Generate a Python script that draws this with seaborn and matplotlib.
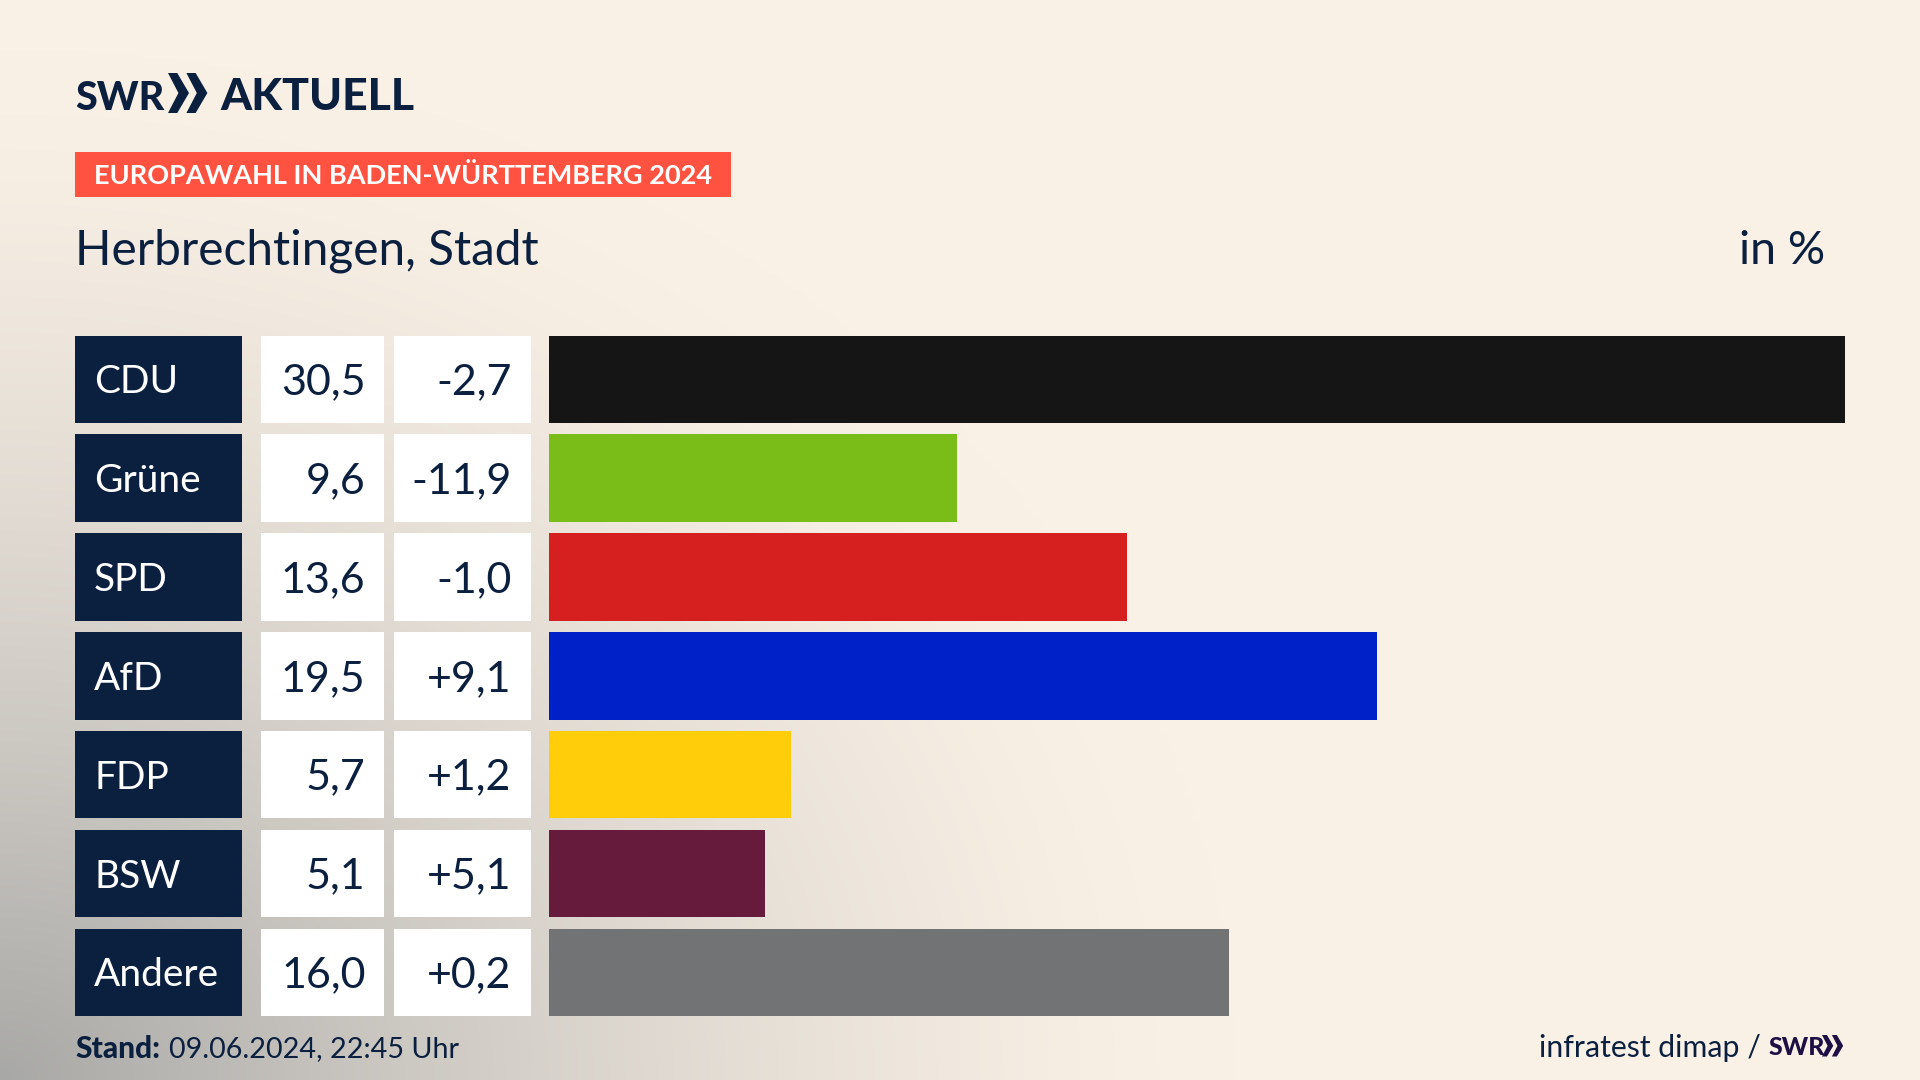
import numpy as np
import pandas as pd
import matplotlib
matplotlib.use("Agg")
import matplotlib.pyplot as plt
from matplotlib.patches import Rectangle, Polygon
import seaborn as sns

# ── Data ─────────────────────────────────────────────────────────────────
PARTIES = ["CDU", "Grüne", "SPD", "AfD", "FDP", "BSW", "Andere"]
SHARES = [30.5, 9.6, 13.6, 19.5, 5.7, 5.1, 16.0]
CHANGES = [-2.7, -11.9, -1.0, 9.1, 1.2, 5.1, 0.2]
COLORS = ["#151515", "#7ABD19", "#D61F1F", "#0020C8", "#FFCD0A", "#661A3C", "#727374"]

NAVY = "#0B1F3F"
CREAM = np.array([250, 241, 230]) / 255
GREY = np.array([168, 168, 166]) / 255

# layout in pixels of the 1920x1080 picture
W, H = 1920, 1080
ROW_TOP, ROW_PITCH, ROW_H = 335.5, 98.85, 87.5
BAR_X0, BAR_X1 = 548.5, 1845

sns.set_theme(style="white")
plt.rcParams["font.family"] = ["Lato", "DejaVu Sans"]

fig = plt.figure(figsize=(W / 100, H / 100), dpi=100)

# ── Background + furniture, axes in pixel coordinates ────────────────────
bg = fig.add_axes([0, 0, 1, 1])
bg.set_xlim(0, W)
bg.set_ylim(H, 0)
bg.axis("off")

# soft grey glow coming out of the bottom left corner
yy, xx = np.mgrid[0:1:270j, 0:1:480j]
dist = np.sqrt((xx / 0.64) ** 2 + ((1 - yy) / 0.95) ** 2)
t = np.clip(1 - dist, 0, 1) ** 1.45
img = CREAM[None, None, :] * (1 - t[..., None]) + GREY[None, None, :] * t[..., None]
bg.imshow(img, extent=[0, W, H, 0], aspect="auto", interpolation="bicubic", zorder=0)
bg.set_xlim(0, W)
bg.set_ylim(H, 0)


def chevrons(x, y, h, color):
    # the two SWR arrows
    w = h * 0.42
    for dx in (0, h * 0.46):
        pts = [(x + dx, y), (x + dx + w * 0.55, y), (x + dx + w * 1.25, y + h / 2),
               (x + dx + w * 0.55, y + h), (x + dx, y + h), (x + dx + w * 0.62, y + h / 2)]
        bg.add_patch(Polygon(pts, closed=True, fc=color, ec="none", zorder=3))


# header
bg.text(75, 110, "SWR", fontsize=28.5, fontweight="black", color=NAVY, va="baseline", ha="left")
chevrons(168, 73, 40, NAVY)
bg.text(220, 110, "AKTUELL", fontsize=32, fontweight="black", color=NAVY, va="baseline", ha="left")

bg.add_patch(Rectangle((75, 152), 656, 45, fc="#FF5240", ec="none", zorder=2))
bg.text(94, 175.5, "EUROPAWAHL IN BADEN-WÜRTTEMBERG 2024", fontsize=19.5, fontweight="bold",
        color="white", va="center", ha="left", zorder=3)
bg.text(75, 251, "Herbrechtingen, Stadt", fontsize=34.4, color=NAVY, va="center", ha="left")
bg.text(1825, 251, "in %", fontsize=33.5, color=NAVY, va="center", ha="right")

# table cells left of the bars
for i, (party, share, change) in enumerate(zip(PARTIES, SHARES, CHANGES)):
    top = ROW_TOP + i * ROW_PITCH
    mid = top + ROW_H / 2 + 3
    bg.add_patch(Rectangle((75, top), 167, ROW_H, fc=NAVY, ec="none", zorder=2))
    bg.add_patch(Rectangle((261, top), 123, ROW_H, fc="white", ec="none", zorder=2))
    bg.add_patch(Rectangle((394, top), 137, ROW_H, fc="white", ec="none", zorder=2))
    bg.text(94, mid, party, fontsize=28, color="white", va="center", ha="left", zorder=3)
    bg.text(365.5, mid, f"{share:.1f}".replace(".", ","), fontsize=31, color=NAVY,
            va="center", ha="right", zorder=3)
    bg.text(511.5, mid, f"{change:+.1f}".replace(".", ","), fontsize=31, color=NAVY,
            va="center", ha="right", zorder=3)

# footer
bg.text(75, 1049, "Stand:", fontsize=21.5, fontweight="black", color=NAVY, va="center", ha="left")
bg.text(169, 1049, "09.06.2024, 22:45 Uhr", fontsize=20.7, color=NAVY, va="center", ha="left")
bg.text(1539, 1048, "infratest dimap /", fontsize=21.8, color=NAVY, va="center", ha="left")
bg.text(1769, 1055, "SWR", fontsize=18, fontweight="black", color="#1E0F45", va="baseline", ha="left")
chevrons(1822, 1035, 21.5, "#1E0F45")

# ── Bars ─────────────────────────────────────────────────────────────────
df = pd.DataFrame({"party": PARTIES, "share": SHARES})
ax_top = ROW_TOP - (ROW_PITCH - ROW_H) / 2
ax_h = 7 * ROW_PITCH
ax = fig.add_axes([BAR_X0 / W, 1 - (ax_top + ax_h) / H, (BAR_X1 - BAR_X0) / W, ax_h / H])
ax.patch.set_alpha(0)
sns.barplot(data=df, x="share", y="party", hue="party", palette=COLORS, order=PARTIES,
            hue_order=PARTIES, dodge=False, legend=False, width=ROW_H / ROW_PITCH,
            saturation=1, linewidth=0, edgecolor="none", ax=ax)
ax.set_xlim(0, max(SHARES))
ax.set_ylim(6.5, -0.5)
ax.set_xlabel("")
ax.set_ylabel("")
ax.set_xticks([])
ax.set_yticks([])
sns.despine(ax=ax, left=True, bottom=True)

fig.savefig("out.png", dpi=100)
plt.close(fig)
